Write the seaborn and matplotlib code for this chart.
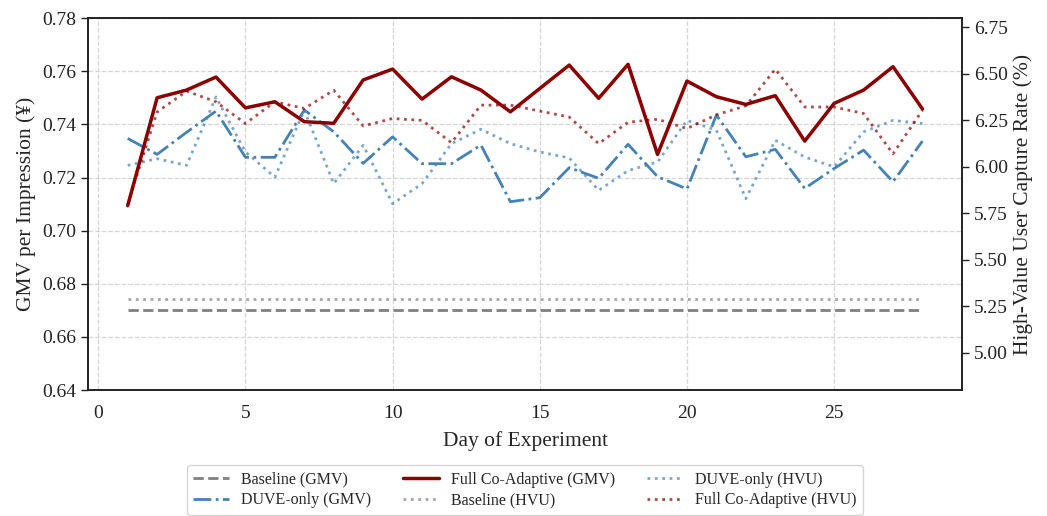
import numpy as np
import pandas as pd
import matplotlib
matplotlib.use("Agg")
import matplotlib.pyplot as plt
import seaborn as sns

days = list(range(1, 29))

baseline_gmv = [0.670] * 28
duve_gmv = [0.7347, 0.7287, 0.7370, 0.7450, 0.7276, 0.7276, 0.7454, 0.7372, 0.7253, 0.7353,
            0.7252, 0.7252, 0.7322, 0.7109, 0.7124, 0.7237, 0.7197, 0.7325, 0.7203, 0.7157,
            0.7435, 0.7278, 0.7306, 0.7159, 0.7234, 0.7303, 0.7184, 0.7337]
full_gmv = [0.7094, 0.7500, 0.7529, 0.7578, 0.7462, 0.7485, 0.7410, 0.7404, 0.7567, 0.7608,
            0.7495, 0.7579, 0.7529, 0.7447, 0.7535, 0.7623, 0.7498, 0.7626, 0.7287, 0.7563,
            0.7504, 0.7475, 0.7508, 0.7337, 0.7479, 0.7529, 0.7617, 0.7458]

baseline_hvu = [5.29] * 28
duve_hvu = [6.008, 6.044, 6.008, 6.376, 6.080, 5.945, 6.305, 5.910, 6.116, 5.802,
            5.910, 6.125, 6.202, 6.125, 6.080, 6.048, 5.874, 5.980, 6.026, 6.250,
            6.197, 5.829, 6.143, 6.053, 6.000, 6.188, 6.250, 6.233]
full_hvu = [5.800, 6.295, 6.407, 6.350, 6.233, 6.350, 6.314, 6.412, 6.220, 6.260,
            6.250, 6.130, 6.332, 6.332, 6.300, 6.268, 6.125, 6.240, 6.256, 6.206,
            6.280, 6.328, 6.525, 6.322, 6.322, 6.287, 6.070, 6.305]

labels_gmv = ["Baseline (GMV)", "DUVE-only (GMV)", "Full Co-Adaptive (GMV)"]
labels_hvu = ["Baseline (HVU)", "DUVE-only (HVU)", "Full Co-Adaptive (HVU)"]

sns.set_theme(style="whitegrid")
plt.rcParams['font.family'] = ['Liberation Serif', 'DejaVu Serif']

fig = plt.figure(figsize=(10.47, 5.16), dpi=100)
ax = fig.add_axes([0.084, 0.244, 0.835, 0.721])
ax2 = ax.twinx()

GRAY = "#808080"
BLUE = "#4682B4"
RED = "#8B0000"

sns.lineplot(x=days, y=baseline_gmv, ax=ax, color=GRAY, linestyle="--", lw=2, label=labels_gmv[0], legend=False)
sns.lineplot(x=days, y=duve_gmv, ax=ax, color=BLUE, linestyle="-.", lw=2, label=labels_gmv[1], legend=False)
sns.lineplot(x=days, y=full_gmv, ax=ax, color=RED, linestyle="-", lw=2.5, label=labels_gmv[2], legend=False)

sns.lineplot(x=days, y=baseline_hvu, ax=ax2, color=GRAY, linestyle=":", lw=2, alpha=0.7, label=labels_hvu[0], legend=False)
sns.lineplot(x=days, y=duve_hvu, ax=ax2, color=BLUE, linestyle=":", lw=2, alpha=0.7, label=labels_hvu[1], legend=False)
sns.lineplot(x=days, y=full_hvu, ax=ax2, color=RED, linestyle=":", lw=2, alpha=0.7, label=labels_hvu[2], legend=False)

ax.set_ylim(0.64, 0.78)
ax2.set_ylim(4.8, 6.8)
ax.set_yticks(np.arange(0.64, 0.7801, 0.02))
ax2.set_yticks(np.arange(5.0, 6.7501, 0.25))
ax.yaxis.set_major_formatter(matplotlib.ticker.FormatStrFormatter('%.2f'))
ax2.yaxis.set_major_formatter(matplotlib.ticker.FormatStrFormatter('%.2f'))
ax.set_xticks([0, 5, 10, 15, 20, 25])

ax.grid(True, linestyle="--", color="#cccccc", linewidth=0.9, alpha=0.8)
ax2.grid(False)

ax.set_xlabel("Day of Experiment", fontsize=15.5, labelpad=6)
ax.set_ylabel("GMV per Impression (¥)", fontsize=15.5)
ax2.set_ylabel("High-Value User Capture Rate (%)", fontsize=15.5)

for a in (ax, ax2):
    for s in a.spines.values():
        s.set_color("#222222")
        s.set_linewidth(1.2)
    a.tick_params(axis="both", labelsize=14, length=5, width=1, color="#222222", labelcolor="#222222")
ax.tick_params(axis="x", pad=6)

h1, l1 = ax.get_legend_handles_labels()
h2, l2 = ax2.get_legend_handles_labels()
leg = fig.legend(h1 + h2, l1 + l2, loc="upper center", bbox_to_anchor=(0.5015, 0.114),
                 ncol=3, fontsize=11.5, frameon=True, labelspacing=0.3, columnspacing=2.0,
                 handlelength=2.2)
leg.get_frame().set_edgecolor("#cccccc")

fig.savefig("out.png", dpi=100)
